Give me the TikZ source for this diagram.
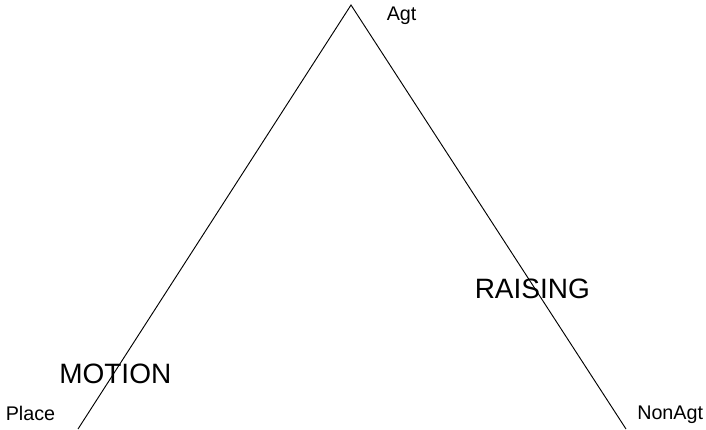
\documentclass[tikz,border=0pt]{standalone}
\usepackage{fontspec}
\setmainfont{Liberation Sans}
\begin{document}
\begin{tikzpicture}[x=0.75pt,y=-0.75pt,
  lbl/.style={anchor=base west,inner sep=0pt,font=\fontsize{14.8pt}{17pt}\selectfont},
  biglbl/.style={anchor=base west,inner sep=0pt,font=\fontsize{21pt}{25pt}\selectfont},
  edge/.style={line width=0.7pt,black}]
  \useasboundingbox (0,0) rectangle (706,429);
  \clip (0,0) rectangle (706,429);
  % triangle vertices
  \coordinate (top) at (351,5);
  \coordinate (left) at (78,429);
  \coordinate (right) at (626,429);
  \draw[edge] (left) -- (top) -- (right);
  % corner labels
  \node[lbl] (agt) at (386.5,20) {Agt};
  \node[lbl] (place) at (5.5,420) {Place};
  \node[lbl] (nonagt) at (637,419) {NonAgt};
  % side labels
  \node[biglbl] (motion) at (59,383) {MOTION};
  \node[biglbl] (raising) at (474.5,298) {RAISING};
\end{tikzpicture}
\end{document}
